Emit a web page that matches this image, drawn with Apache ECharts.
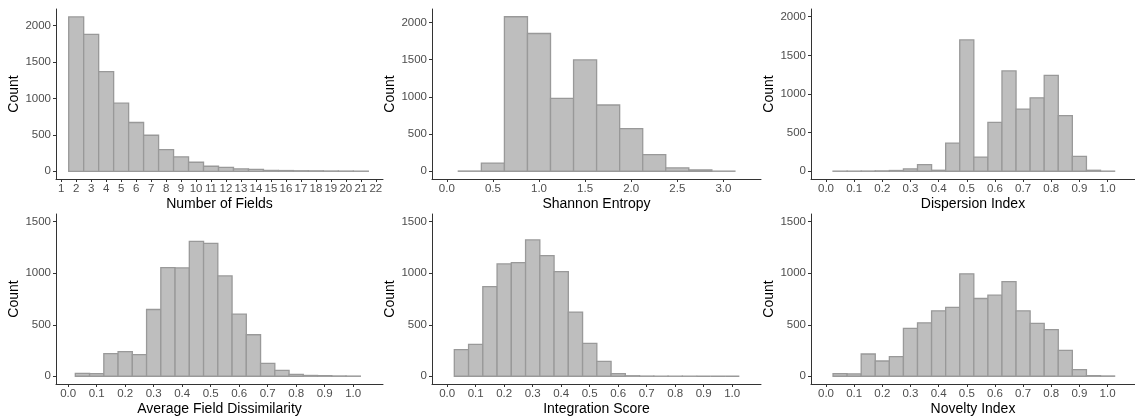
<!DOCTYPE html>
<html>
<head>
<meta charset="utf-8">
<script src="https://cdn.jsdelivr.net/npm/echarts@6/dist/echarts.min.js"></script>
<style>
  html, body { margin: 0; padding: 0; background: #ffffff; }
  #chart { width: 1135px; height: 417px; }
</style>
</head>
<body>
<div id="chart"></div>
<script>
// Histogram bins (centres) and counts for each metric
const fieldsBins   = [2, 3, 4, 5, 6, 7, 8, 9, 10, 11, 12, 13, 14, 15, 16, 17, 18, 19, 20, 21];
const fieldsCounts = [2120, 1880, 1370, 935, 670, 495, 298, 198, 124, 69, 55, 33, 27, 12, 10, 7, 6, 4, 3, 2];

const entropyBins   = [0.25, 0.5, 0.75, 1.0, 1.25, 1.5, 1.75, 2.0, 2.25, 2.5, 2.75, 3.0];
const entropyCounts = [3, 110, 2075, 1850, 980, 1495, 890, 572, 223, 45, 18, 2];

const unitBins = [0.05, 0.1, 0.15, 0.2, 0.25, 0.3, 0.35, 0.4, 0.45, 0.5,
                  0.55, 0.6, 0.65, 0.7, 0.75, 0.8, 0.85, 0.9, 0.95, 1.0];
const dispersionCounts    = [2, 2, 3, 5, 10, 30, 86, 13, 364, 1700, 184, 634, 1298, 805, 950, 1242, 719, 193, 13, 2];
const dissimilarityCounts = [29, 26, 219, 239, 210, 648, 1055, 1052, 1310, 1290, 974, 603, 403, 126, 58, 19, 8, 6, 3, 2];
const integrationCounts   = [258, 310, 871, 1090, 1103, 1323, 1171, 1016, 623, 319, 145, 26, 5, 2, 1, 1, 1, 0, 0, 0];
const noveltyCounts       = [26, 23, 216, 148, 190, 465, 519, 635, 668, 994, 755, 787, 919, 635, 513, 452, 252, 65, 6, 3];

// Tick positions
const fieldsTicks  = [1, 2, 3, 4, 5, 6, 7, 8, 9, 10, 11, 12, 13, 14, 15, 16, 17, 18, 19, 20, 21, 22];
const entropyTicks = [0, 0.5, 1.0, 1.5, 2.0, 2.5, 3.0];
const unitTicks    = [0, 0.1, 0.2, 0.3, 0.4, 0.5, 0.6, 0.7, 0.8, 0.9, 1.0];
const countTicksTop    = [0, 500, 1000, 1500, 2000];
const countTicksBottom = [0, 500, 1000, 1500];

const FONT = '"Liberation Sans", Arial, Helvetica, sans-serif';
const AXIS_COLOR = '#333333';
const LABEL_COLOR = '#4d4d4d';

function toRects(centers, counts, width) {
  return centers.map((c, i) => [c - width / 2, c + width / 2, counts[i]]);
}

const panels = [
  { name: 'Number of Fields', data: toRects(fieldsBins, fieldsCounts, 1), ticks: fieldsTicks, fmt: v => String(v),
    xmin: 0.652, xmax: 22.48, ymin: -106, ymax: 2229, yticks: countTicksTop,
    left: 56, top: 9, width: 327 },
  { name: 'Shannon Entropy', data: toRects(entropyBins, entropyCounts, 0.25), ticks: entropyTicks, fmt: v => v.toFixed(1),
    xmin: -0.1605, xmax: 3.408, ymin: -104, ymax: 2179, yticks: countTicksTop,
    left: 432, top: 9, width: 329 },
  { name: 'Dispersion Index', data: toRects(unitBins, dispersionCounts, 0.05), ticks: unitTicks, fmt: v => v.toFixed(1),
    xmin: -0.0533, xmax: 1.0975, ymin: -100, ymax: 2100, yticks: countTicksTop,
    left: 811, top: 9, width: 328 },
  { name: 'Average Field Dissimilarity', data: toRects(unitBins, dissimilarityCounts, 0.05), ticks: unitTicks, fmt: v => v.toFixed(1),
    xmin: -0.0428, xmax: 1.1046, ymin: -75, ymax: 1575, yticks: countTicksBottom,
    left: 56, top: 214, width: 327 },
  { name: 'Integration Score', data: toRects(unitBins, integrationCounts, 0.05), ticks: unitTicks, fmt: v => v.toFixed(1),
    xmin: -0.0533, xmax: 1.101, ymin: -75, ymax: 1575, yticks: countTicksBottom,
    left: 432, top: 214, width: 329 },
  { name: 'Novelty Index', data: toRects(unitBins, noveltyCounts, 0.05), ticks: unitTicks, fmt: v => v.toFixed(1),
    xmin: -0.0533, xmax: 1.0975, ymin: -75, ymax: 1575, yticks: countTicksBottom,
    left: 811, top: 214, width: 328 }
];

const grid = [], xAxis = [], yAxis = [], series = [];

panels.forEach((p, i) => {
  grid.push({ left: p.left, top: p.top, width: p.width, height: 170, containLabel: false });
  xAxis.push({
    type: 'value', gridIndex: i, min: p.xmin, max: p.xmax,
    name: p.name, nameLocation: 'middle', nameGap: 18,
    nameTextStyle: { fontFamily: FONT, fontSize: 14, color: '#000000' },
    axisLine: { show: true, onZero: false, lineStyle: { color: AXIS_COLOR, width: 1 } },
    axisTick: { show: true, length: 3, customValues: p.ticks, lineStyle: { color: AXIS_COLOR } },
    axisLabel: { customValues: p.ticks, formatter: p.fmt, margin: 4, fontFamily: FONT, fontSize: 11.5, color: LABEL_COLOR, hideOverlap: false },
    splitLine: { show: false }
  });
  yAxis.push({
    type: 'value', gridIndex: i, min: p.ymin, max: p.ymax,
    name: 'Count', nameLocation: 'middle', nameGap: 34, nameRotate: 90,
    nameTextStyle: { fontFamily: FONT, fontSize: 14, color: '#000000' },
    axisLine: { show: true, onZero: false, lineStyle: { color: AXIS_COLOR, width: 1 } },
    axisTick: { show: true, length: 3, customValues: p.yticks, lineStyle: { color: AXIS_COLOR } },
    axisLabel: { customValues: p.yticks, formatter: v => String(v), margin: 5, fontFamily: FONT, fontSize: 11.5, color: LABEL_COLOR },
    splitLine: { show: false }
  });
  series.push({
    type: 'custom', xAxisIndex: i, yAxisIndex: i,
    data: p.data,
    encode: { x: [0, 1], y: 2 },
    renderItem: function (params, api) {
      const topLeft = api.coord([api.value(0), api.value(2)]);
      const bottomRight = api.coord([api.value(1), 0]);
      return {
        type: 'rect',
        shape: { x: topLeft[0], y: topLeft[1], width: bottomRight[0] - topLeft[0], height: bottomRight[1] - topLeft[1] },
        style: { fill: '#bebebe', stroke: '#999999', lineWidth: 1.3 }
      };
    }
  });
});

const chart = echarts.init(document.getElementById('chart'), null, { renderer: 'canvas' });
chart.setOption({
  animation: false,
  backgroundColor: '#ffffff',
  textStyle: { fontFamily: FONT },
  grid, xAxis, yAxis, series
});
</script>
</body>
</html>
